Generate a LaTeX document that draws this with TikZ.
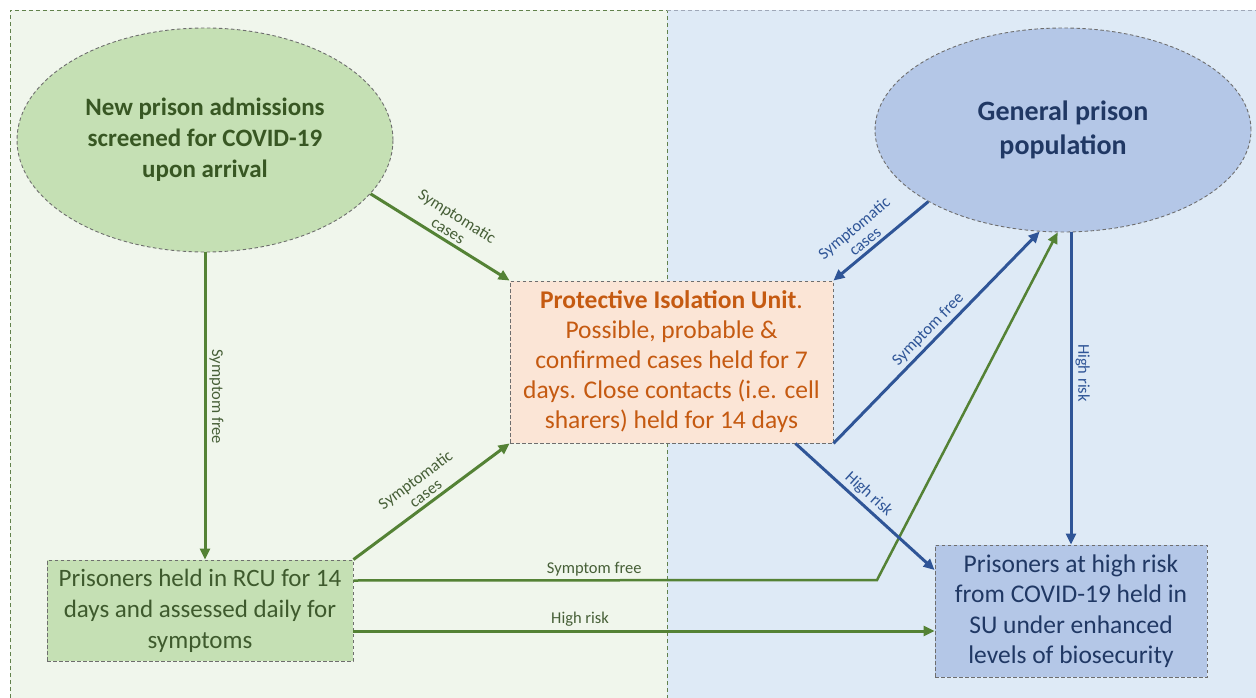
\documentclass[tikz,border=0pt]{standalone}
\usepackage{fontspec}
\setmainfont{Carlito}
\usetikzlibrary{shapes.geometric,arrows.meta}
\definecolor{gpanel}{RGB}{240,246,236}
\definecolor{bpanel}{RGB}{222,234,246}
\definecolor{gfill}{RGB}{197,224,180}
\definecolor{bfill}{RGB}{180,199,231}
\definecolor{ofill}{RGB}{251,229,214}
\definecolor{gline}{RGB}{84,130,53}
\definecolor{bline}{RGB}{47,85,151}
\definecolor{gtext}{RGB}{56,87,35}
\definecolor{gtextl}{RGB}{62,90,45}
\definecolor{otext}{RGB}{197,90,17}
\definecolor{btext}{RGB}{32,56,100}
\definecolor{glabel}{RGB}{70,95,55}
\definecolor{bordergray}{RGB}{110,110,110}
\tikzset{
  dashborder/.style={draw=bordergray, line width=0.9pt, dash pattern=on 3.5pt off 2.5pt},
  gell/.style={ellipse, dashborder, fill=gfill, inner sep=0pt, align=center},
  bell/.style={ellipse, dashborder, fill=bfill, inner sep=0pt, align=center},
  boxnode/.style={rectangle, dashborder, inner sep=0pt, align=center},
  garrow/.style={draw=gline, line width=3pt, -{Triangle[length=11pt,width=10pt]}},
  barrow/.style={draw=bline, line width=3pt, -{Triangle[length=11pt,width=10pt]}},
  glab/.style={text=glabel, font=\fontsize{16.5}{17}\selectfont, align=center, inner sep=3pt},
  blab/.style={text=bline, font=\fontsize{16.5}{17}\selectfont, align=center, inner sep=3pt}
}
\begin{document}
\begin{tikzpicture}[x=1pt,y=-1pt]
\useasboundingbox (0,0) rectangle (1256,698);
% panels
\fill[gpanel] (10,10) rectangle (667,698);
\fill[bpanel] (667,10) rectangle (1256,698);
\draw[draw=gline!70!gray, line width=0.8pt, dash pattern=on 4pt off 3pt] (10,698) -- (10,10) -- (667,10) -- (667,698);
\draw[draw=bline!40!gray!60, line width=0.8pt, dash pattern=on 4pt off 3pt] (667,10) -- (1256,10);
% nodes
\node[gell, minimum width=376pt, minimum height=224pt, text=gtext,
  font=\bfseries\fontsize{25}{31}\selectfont] (e1) at (205,140)
  {New prison admissions\\screened for COVID-19\\upon arrival};
\node[bell, minimum width=376pt, minimum height=204pt, text=btext,
  font=\bfseries\fontsize{28}{34}\selectfont] (e2) at (1063,130)
  {General prison\\population};
\node[boxnode, fill=ofill, minimum width=323pt, minimum height=162pt, text=otext,
  font=\fontsize{25.5}{30}\selectfont] (piu) at (671.5,362)
  {\textbf{Protective Isolation Unit}.\\Possible, probable \&\\confirmed cases held for 7\\days. Close contacts (i.e. cell\\sharers) held for 14 days};
\node[boxnode, fill=gfill, minimum width=306pt, minimum height=101pt, text=gtextl,
  font=\fontsize{25}{31}\selectfont] (rcu) at (200,610.5)
  {Prisoners held in RCU for 14\\days and assessed daily for\\symptoms};
\node[boxnode, fill=bfill, minimum width=272pt, minimum height=132pt, text=btext,
  font=\fontsize{25.5}{30.5}\selectfont] (su) at (1071,611)
  {Prisoners at high risk\\from COVID-19 held in\\SU under enhanced\\levels of biosecurity};
\coordinate (bend) at (877,580);
% green arrows
\draw[garrow] (e1.-18) -- node[glab, sloped, above, pos=0.52] {Symptomatic\\cases} (piu.north west);
\draw[garrow] (e1.south) -- node[glab, pos=0.47, rotate=-90, anchor=south] {Symptom free} (e1.south |- rcu.north);
\draw[garrow] (rcu.north east) -- node[glab, sloped, above, pos=0.5] {Symptomatic\\cases} (piu.south west);
\draw[garrow, line width=2.5pt] ([yshift=30pt]rcu.east) -- node[glab, above, pos=0.46] {Symptom free} (bend) -- (e2.-93);
\draw[garrow] ([yshift=-20.5pt]rcu.east) coordinate (h1) -- node[glab, above, pos=0.39] {High risk} (h1 -| su.west);
% blue arrows
\draw[barrow] (e2.208) -- node[blab, sloped, above, pos=0.6] {Symptomatic\\cases} (piu.north east);
\draw[barrow] (piu.south east) -- node[blab, sloped, above, pos=0.5] {Symptom free} (e2.-103);
\draw[barrow] ([xshift=-38pt]piu.south east) -- node[blab, sloped, above, pos=0.47] {High risk} ([yshift=41pt]su.west);
\draw[barrow] (su.north |- e2.south) -- node[blab, pos=0.45, rotate=-90, anchor=south] {High risk} (su.north);
\end{tikzpicture}
\end{document}
